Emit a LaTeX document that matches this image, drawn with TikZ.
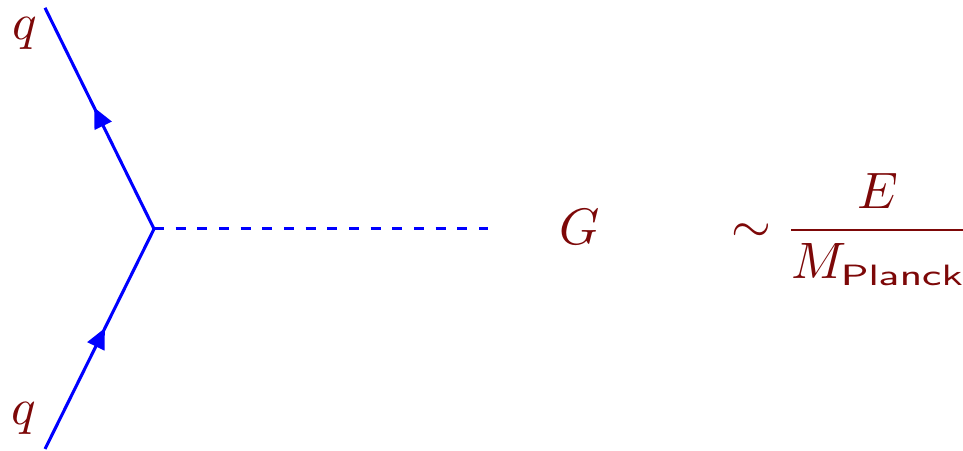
\documentclass[tikz,border=0pt]{standalone}
\usepackage{amsmath,amssymb}
\usepackage{graphicx}
\usepackage{tikz}
\usetikzlibrary{arrows.meta,positioning,calc,decorations.markings}
\usepackage{xcolor}
\definecolor{quarkblue}{RGB}{0,0,255}
\definecolor{labelred}{RGB}{125,8,8}

\begin{document}
\begin{tikzpicture}[
    fermion/.style={color=quarkblue,line width=0.6pt,postaction={decorate},
        decoration={markings,mark=at position 0.55 with {\arrow{Triangle[length=4pt,width=3.6pt]}}}},
    graviton/.style={color=quarkblue,line width=0.6pt,dash pattern=on 1.95pt off 2.28pt},
    lbl/.style={text=labelred,inner sep=0pt,anchor=base}
]
\useasboundingbox (-1.057,-1.523) rectangle (5.551,1.571);
\coordinate (vtx) at (0,0);
\coordinate (qin) at (-0.748,-1.51);
\coordinate (qout) at (-0.748,1.517);
\coordinate (gend) at (2.292,0);
\draw[fermion] (qin) -- (vtx);
\draw[fermion] (vtx) -- (qout);
\draw[graviton] (vtx) -- (gend);
\node[lbl] (qtop) at (-0.885,1.297) {$q$};
\node[lbl] (qbot) at (-0.892,-1.345) {$q$};
\node[lbl] (grav) at (2.923,-0.110) {$G$};
\node[lbl,anchor=base west] (ratio) at (3.952,-0.096)
    {$\sim \dfrac{E}{M_{\scalebox{1.14}[0.82]{$\scriptstyle\mathsf{Planck}$}}}$};
\end{tikzpicture}
\end{document}
